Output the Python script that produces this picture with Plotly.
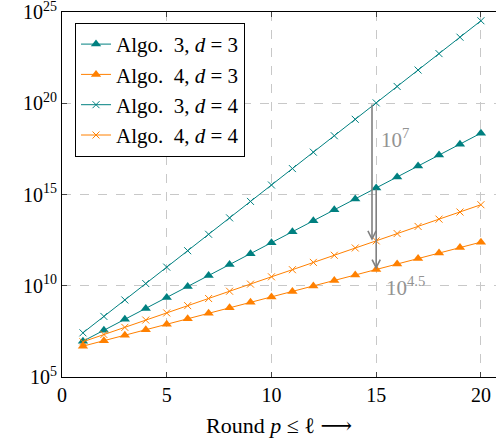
import plotly.graph_objects as go

# ---- data (log10 of the values) ----
rounds = list(range(1, 21))
algo3_d3_exp = [6.96, 7.56, 8.16, 8.76, 9.36, 9.96, 10.56, 11.16, 11.76, 12.36,
                12.96, 13.56, 14.16, 14.76, 15.36, 15.96, 16.56, 17.16, 17.76, 18.36]
algo4_d3_exp = [6.69, 6.99, 7.29, 7.59, 7.89, 8.19, 8.49, 8.79, 9.09, 9.39,
                9.69, 9.99, 10.29, 10.59, 10.89, 11.19, 11.49, 11.79, 12.09, 12.39]
algo3_d4_exp = [7.42, 8.32, 9.22, 10.12, 11.02, 11.92, 12.82, 13.72, 14.62, 15.52,
                16.42, 17.32, 18.22, 19.12, 20.02, 20.92, 21.82, 22.72, 23.62, 24.52]
algo4_d4_exp = [6.93, 7.33, 7.72, 8.12, 8.51, 8.91, 9.30, 9.70, 10.09, 10.49,
                10.88, 11.28, 11.67, 12.07, 12.46, 12.86, 13.25, 13.65, 14.04, 14.44]

x_ticks = [0, 5, 10, 15, 20]
y_tick_exps = [5, 10, 15, 20, 25]
y_tick_text = ["10<sup>%d</sup>" % e for e in y_tick_exps]

series = [
    ("Algo.\u00a0 3, <i>d</i>\u00a0=\u00a03", algo3_d3_exp, "#008080", "triangle-up"),
    ("Algo.\u00a0 4, <i>d</i>\u00a0=\u00a03", algo4_d3_exp, "#ff8000", "triangle-up"),
    ("Algo.\u00a0 3, <i>d</i>\u00a0=\u00a04", algo3_d4_exp, "#008080", "x-thin"),
    ("Algo.\u00a0 4, <i>d</i>\u00a0=\u00a04", algo4_d4_exp, "#ff8000", "x-thin"),
]

FONT = "Liberation Serif, DejaVu Serif, serif"

fig = go.Figure()
for name, exps, col, sym in series:
    vals = [10.0 ** e for e in exps]
    if sym == "x-thin":
        marker = dict(symbol=sym, size=7, color=col, line=dict(width=1, color=col))
    else:
        marker = dict(symbol=sym, size=9, color=col, line=dict(width=0))
    fig.add_trace(go.Scatter(x=rounds, y=vals, name=name, mode="lines+markers",
                             line=dict(color=col, width=1), marker=marker))

# ---- difference arrows at round 15 ----
i15 = rounds.index(15)
arrow_col = "#808080"
arrows = [
    (rounds[i15] - 0.2, algo3_d4_exp[i15], algo4_d4_exp[i15]),
    (rounds[i15], algo3_d3_exp[i15], algo4_d3_exp[i15]),
]
for ax_, top, bottom in arrows:
    fig.add_annotation(x=ax_, y=bottom, ax=ax_, ay=top, xref="x", yref="y",
                       axref="x", ayref="y", text="", showarrow=True,
                       arrowhead=5, arrowsize=1.0, arrowwidth=1.6, arrowcolor=arrow_col,
                       standoff=0, startstandoff=0)
    fig.add_shape(type="line", x0=ax_ - 0.33, x1=ax_ + 0.33, y0=top, y1=top,
                  xref="x", yref="y", line=dict(color=arrow_col, width=1.6))

label_col = "#939393"
fig.add_annotation(x=15.15, y=18.05, xref="x", yref="y", text="10<sup>7</sup>",
                   showarrow=False, xanchor="left", yanchor="middle",
                   font=dict(family=FONT, size=21, color=label_col))
fig.add_annotation(x=15.35, y=9.95, xref="x", yref="y", text="10<sup>4.5</sup>",
                   showarrow=False, xanchor="left", yanchor="middle",
                   font=dict(family=FONT, size=21, color=label_col))

fig.update_layout(
    width=496, height=442,
    margin=dict(l=62, r=0, t=12, b=65, autoexpand=False),
    paper_bgcolor="white", plot_bgcolor="white",
    font=dict(family=FONT, size=19, color="black"),
    showlegend=True,
    legend=dict(x=0.03, y=0.97, xanchor="left", yanchor="top",
                bgcolor="white", bordercolor="black", borderwidth=1,
                font=dict(family=FONT, size=21), tracegroupgap=0),
)
fig.update_xaxes(
    range=[0, 20.72], tickvals=x_ticks, ticktext=[str(t) for t in x_ticks],
    showgrid=True, gridcolor="#c8c8c8", griddash="dash", gridwidth=1,
    showline=True, linecolor="black", linewidth=1, mirror="ticks",
    ticks="inside", ticklen=5, tickcolor="#444444", zeroline=False,
    automargin=False, ticklabeloverflow="allow",
    title=dict(text="Round <i>p</i> ≤ ℓ ⟶", font=dict(family=FONT, size=22), standoff=12),
    tickfont=dict(family=FONT, size=20),
)
fig.update_yaxes(
    type="log", range=[4.9999, 25.0001], tickvals=[10.0 ** e for e in y_tick_exps],
    ticktext=y_tick_text,
    showgrid=True, gridcolor="#c8c8c8", griddash="dash", gridwidth=1,
    showline=True, linecolor="black", linewidth=1, mirror=False,
    ticks="inside", ticklen=5, tickcolor="#444444", zeroline=False,
    automargin=False, ticklabeloverflow="allow",
    tickfont=dict(family=FONT, size=20),
)

fig.write_html("out.html", config={"displayModeBar": False},
               post_script="document.body.style.margin='0';")
